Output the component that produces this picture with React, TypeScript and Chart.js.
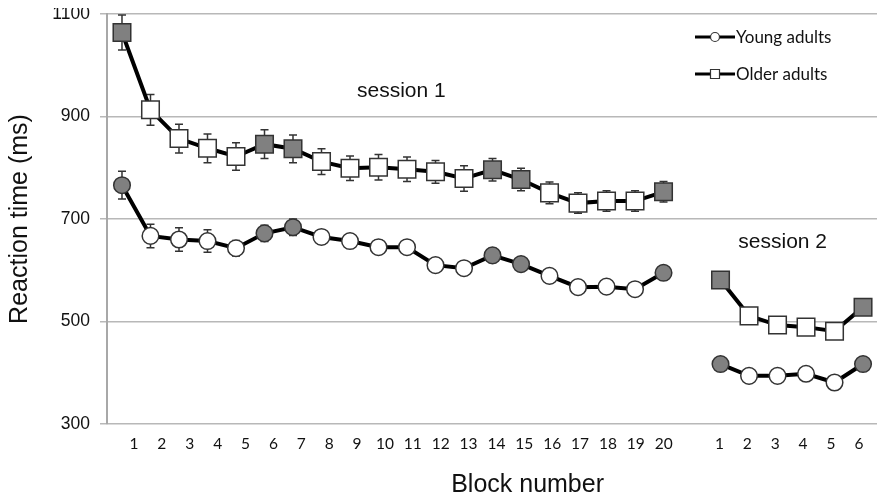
import React, { useEffect, useRef } from 'react';
import { Chart, registerables } from 'chart.js';

Chart.register(...registerables);

const session1Blocks = ['1', '2', '3', '4', '5', '6', '7', '8', '9', '10', '11', '12', '13', '14', '15', '16', '17', '18', '19', '20'];
const session2Blocks = ['1', '2', '3', '4', '5', '6'];

const youngSession1 = [766, 667, 660, 657, 643, 672, 684, 665, 657, 645, 645, 610, 604, 629, 612, 589, 567, 568, 563, 595];
const youngSession2 = [417, 394, 394, 398, 381, 417];
const olderSession1 = [1064, 913, 857, 838, 822, 846, 837, 812, 799, 801, 797, 792, 779, 796, 777, 751, 731, 735, 735, 753];
const olderSession2 = [581, 511, 493, 489, 481, 528];

// standard errors (ms)
const youngErrSession1 = [27, 23, 23, 22, 15, 16, 16, 14, 14, 14, 14, 13, 13, 14, 14, 13, 13, 13, 13, 13];
const youngErrSession2 = [12, 11, 11, 11, 11, 12];
const olderErrSession1 = [34, 30, 28, 28, 27, 28, 27, 25, 24, 25, 24, 22, 25, 22, 22, 21, 20, 20, 20, 20];
const olderErrSession2 = [15, 14, 13, 13, 13, 14];

// blocks drawn with a grey marker
const highlightedSession1 = [1, 6, 7, 14, 15, 20];
const highlightedSession2 = [1, 6];

const yTicks = [300, 500, 700, 900, 1100];

const GREY = '#808080';
const gap = session1Blocks.length + 1;

const toPoints = (s1: number[], s2: number[]) => [
  ...s1.map((y, i) => ({ x: i + 1, y })),
  { x: gap, y: null },
  ...s2.map((y, i) => ({ x: gap + 1 + i, y })),
];

const toFill = () => [
  ...session1Blocks.map((_, i) => (highlightedSession1.includes(i + 1) ? GREY : '#fff')),
  '#fff',
  ...session2Blocks.map((_, i) => (highlightedSession2.includes(i + 1) ? GREY : '#fff')),
];

const tickPositions = [
  ...session1Blocks.map((_, i) => i + 1),
  ...session2Blocks.map((_, i) => gap + 1 + i),
];
const tickLabel = (v: number) =>
  v <= session1Blocks.length ? session1Blocks[v - 1] : session2Blocks[v - gap - 1];

const errorBars = {
  id: 'errorBars',
  beforeDatasetsDraw(chart: any) {
    const { ctx, scales } = chart;
    ctx.save();
    ctx.strokeStyle = '#333';
    ctx.lineWidth = 1.5;
    chart.data.datasets.forEach((ds: any) => {
      ds.data.forEach((pt: any, i: number) => {
        if (pt.y == null) return;
        const e = ds.errors[i];
        const px = scales.x.getPixelForValue(pt.x);
        const top = scales.y.getPixelForValue(pt.y + e);
        const bot = scales.y.getPixelForValue(pt.y - e);
        ctx.beginPath();
        ctx.moveTo(px, top);
        ctx.lineTo(px, bot);
        ctx.moveTo(px - 4, top);
        ctx.lineTo(px + 4, top);
        ctx.moveTo(px - 4, bot);
        ctx.lineTo(px + 4, bot);
        ctx.stroke();
      });
    });
    ctx.restore();
  },
};

const annotations = {
  id: 'annotations',
  afterDraw(chart: any) {
    const { ctx, scales, chartArea } = chart;
    ctx.save();
    ctx.fillStyle = '#111';
    ctx.textBaseline = 'alphabetic';
    ctx.textAlign = 'center';
    ctx.font = '21px "Liberation Sans", Arial, sans-serif';
    ctx.fillText('session 1', scales.x.getPixelForValue(10.8), scales.y.getPixelForValue(938));
    ctx.fillText('session 2', scales.x.getPixelForValue(24.18), scales.y.getPixelForValue(643));
    ctx.font = '25px "Liberation Sans", Arial, sans-serif';
    ctx.fillText('Block number', scales.x.getPixelForValue(15.23), chartArea.bottom + 68);

    // legend
    const x0 = chartArea.right - 182;
    chart.data.datasets.forEach((ds: any, i: number) => {
      const y = chartArea.top + 23 + i * 37;
      ctx.strokeStyle = '#000';
      ctx.lineWidth = 3;
      ctx.beginPath();
      ctx.moveTo(x0, y);
      ctx.lineTo(x0 + 40, y);
      ctx.stroke();
      ctx.fillStyle = '#fff';
      ctx.strokeStyle = '#333';
      ctx.lineWidth = 1.2;
      ctx.beginPath();
      if (ds.pointStyle === 'circle') ctx.arc(x0 + 20, y, 4.5, 0, Math.PI * 2);
      else ctx.rect(x0 + 15.5, y - 4.5, 9, 9);
      ctx.fill();
      ctx.stroke();
      ctx.fillStyle = '#111';
      ctx.textAlign = 'left';
      ctx.textBaseline = 'middle';
      ctx.font = '17px Lato, "Open Sans", sans-serif';
      ctx.fillText(ds.label, x0 + 41, y + 1);
    });
    ctx.restore();
  },
};

const App: React.FC = () => {
  const canvasRef = useRef<HTMLCanvasElement | null>(null);
  const chartRef = useRef<Chart | null>(null);

  useEffect(() => {
    if (!canvasRef.current) return;
    if (chartRef.current) chartRef.current.destroy();

    chartRef.current = new Chart(canvasRef.current, {
      type: 'line',
      data: {
        datasets: [
          {
            label: 'Young adults',
            data: toPoints(youngSession1, youngSession2),
            errors: [...youngErrSession1, 0, ...youngErrSession2],
            borderColor: '#000',
            borderWidth: 4,
            pointStyle: 'circle',
            pointRadius: 8.3,
            pointBorderWidth: 1.5,
            pointBorderColor: '#333',
            pointBackgroundColor: toFill(),
            spanGaps: false,
          } as any,
          {
            label: 'Older adults',
            data: toPoints(olderSession1, olderSession2),
            errors: [...olderErrSession1, 0, ...olderErrSession2],
            borderColor: '#000',
            borderWidth: 4,
            pointStyle: 'rect',
            pointRadius: 12.4,
            pointBorderWidth: 1.5,
            pointBorderColor: '#333',
            pointBackgroundColor: toFill(),
            spanGaps: false,
          } as any,
        ],
      },
      options: {
        animation: false,
        responsive: true,
        maintainAspectRatio: false,
        events: [],
        layout: { autoPadding: false, padding: { left: 0, right: 7, top: 6, bottom: 0 } },
        plugins: { legend: { display: false }, tooltip: { enabled: false } },
        scales: {
          x: {
            type: 'linear',
            display: false,
            min: 0.474,
            max: 27.49,
          },
          xLabels: {
            type: 'linear',
            position: 'bottom',
            min: 0.032,
            max: 27.65,
            grid: { display: false, drawTicks: false },
            border: { display: false },
            afterBuildTicks: (scale: any) => {
              scale.ticks = tickPositions.map((value) => ({ value }));
            },
            afterFit: (scale: any) => {
              scale.height = 69;
              scale.paddingLeft = 0;
              scale.paddingRight = 0;
            },
            ticks: {
              autoSkip: false,
              maxRotation: 0,
              padding: 11,
              color: '#111',
              font: { family: 'Lato, "Open Sans", sans-serif', size: 15.5 },
              callback: (v: any) => tickLabel(Number(v)),
            },
          },
          y: {
            type: 'linear',
            min: 300,
            max: 1100,
            afterBuildTicks: (scale: any) => {
              scale.ticks = yTicks.map((value) => ({ value }));
            },
            afterFit: (scale: any) => {
              scale.width = 99;
              scale.paddingTop = 0;
              scale.paddingBottom = 0;
            },
            grid: { color: '#b8b8b8', lineWidth: 1.5, tickLength: 7 },
            border: { display: true, color: '#a8a8a8', width: 2 },
            ticks: {
              padding: 10,
              color: '#111',
              font: { family: '"Liberation Sans", Arial, sans-serif', size: 17.5 },
              callback: (v: any) => String(v),
            },
            title: {
              display: true,
              text: 'Reaction time (ms)',
              color: '#111',
              padding: { top: 0, bottom: 0 },
              font: { family: '"Liberation Sans", Arial, sans-serif', size: 25, lineHeight: 1 },
            },
          },
        },
      },
      plugins: [errorBars, annotations],
    });

    return () => {
      chartRef.current?.destroy();
      chartRef.current = null;
    };
  }, []);

  return (
    <div style={{ width: 876, height: 485, position: 'relative' }}>
      <canvas ref={canvasRef} />
    </div>
  );
};

export default App;
